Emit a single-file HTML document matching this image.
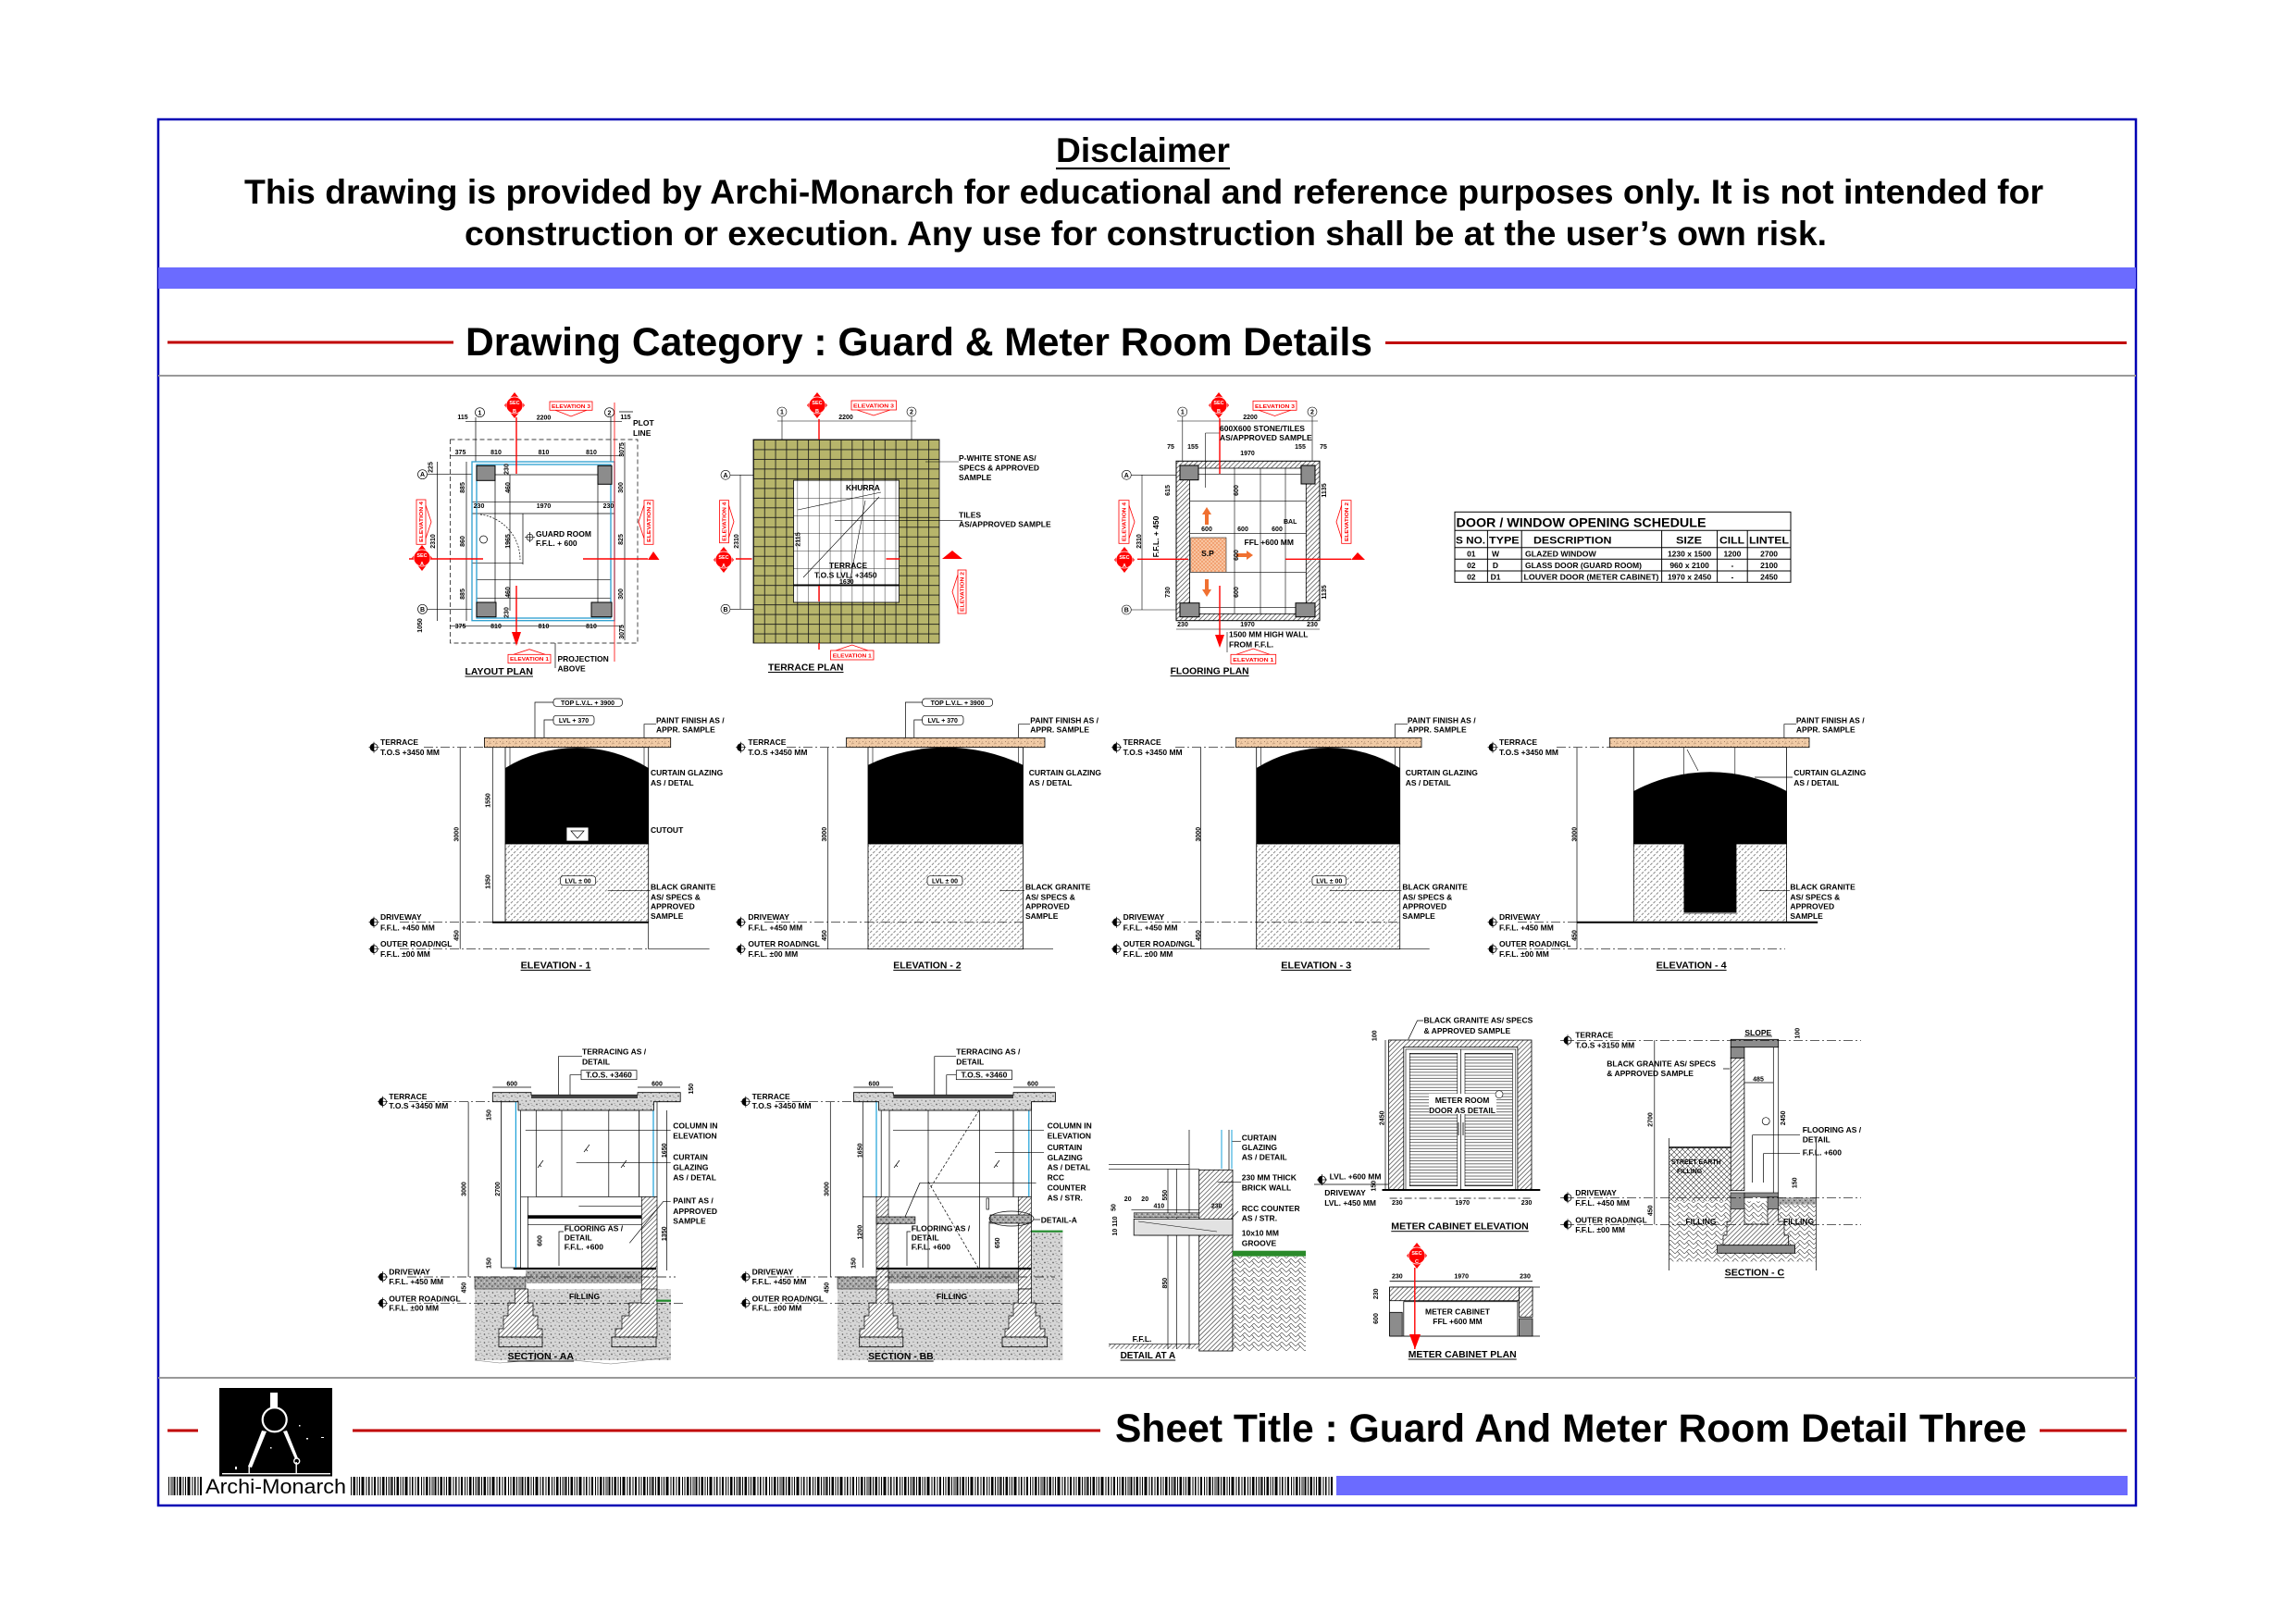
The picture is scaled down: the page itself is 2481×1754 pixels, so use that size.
<!DOCTYPE html>
<html><head><meta charset="utf-8"><title>Guard And Meter Room Detail Three</title>
<style>
html,body{margin:0;padding:0;background:#fff;width:2481px;height:1754px;overflow:hidden;}
svg{display:block;}
text{font-family:"Liberation Sans",Arial,sans-serif;}
.t{font-size:8.5px;font-weight:bold;fill:#000;stroke:none;}
.d{font-size:7px;font-weight:bold;fill:#000;stroke:none;}
.r{font-size:5.5px;font-weight:bold;fill:#f00;stroke:none;}
.w{font-size:5.5px;font-weight:bold;fill:#fff;stroke:none;}
.u{font-size:10.5px;font-weight:bold;fill:#000;stroke:none;}
.m{text-anchor:middle;}
</style></head><body>
<svg width="2481" height="1754" viewBox="0 0 2481 1754" xmlns="http://www.w3.org/2000/svg" xmlns:xlink="http://www.w3.org/1999/xlink">
<defs>
<pattern id="bar" x="0" y="0" width="47" height="20" patternUnits="userSpaceOnUse">
<rect x="0" width="1.5" height="20"/><rect x="3" width="1" height="20"/><rect x="5.5" width="2.5" height="20"/><rect x="9.5" width="1" height="20"/><rect x="12" width="1" height="20"/><rect x="14.5" width="3" height="20"/><rect x="19.5" width="1" height="20"/><rect x="22" width="1.5" height="20"/><rect x="25.5" width="1" height="20"/><rect x="28" width="2" height="20"/><rect x="32" width="1" height="20"/><rect x="34.5" width="1" height="20"/><rect x="37" width="2.5" height="20"/><rect x="41" width="1" height="20"/><rect x="43.5" width="1" height="20"/><rect x="45.5" width="1" height="20"/>
</pattern>
<pattern id="gran" width="4.5" height="4.5" patternUnits="userSpaceOnUse" patternTransform="rotate(45)"><rect width="4.5" height="4.5" fill="#fff"/><line x1="0.5" y1="0" x2="0.5" y2="4.5" stroke="#555" stroke-width="0.7" stroke-dasharray="3,1.5"/></pattern>
<pattern id="wh" width="3.6" height="3.6" patternUnits="userSpaceOnUse" patternTransform="rotate(45)"><rect width="3.6" height="3.6" fill="#fff"/><line x1="0.5" y1="0" x2="0.5" y2="3.6" stroke="#222" stroke-width="0.6"/></pattern>
<pattern id="st" width="9" height="9" patternUnits="userSpaceOnUse"><rect width="9" height="9" fill="#d6d6d6"/><circle cx="1.5" cy="2" r="0.8" fill="#555"/><circle cx="6" cy="1.2" r="0.6" fill="#777"/><circle cx="4" cy="5.5" r="0.9" fill="#666"/><circle cx="8" cy="6.5" r="0.6" fill="#888"/><circle cx="1" cy="7.5" r="0.5" fill="#777"/><rect x="6.5" y="4" width="1" height="1" fill="#999"/></pattern>
<pattern id="st2" width="6" height="6" patternUnits="userSpaceOnUse"><rect width="6" height="6" fill="#a8a8a8"/><circle cx="1" cy="1.5" r="0.7" fill="#333"/><circle cx="4" cy="4" r="0.8" fill="#444"/><circle cx="4.5" cy="0.8" r="0.5" fill="#eee"/><circle cx="1.5" cy="4.8" r="0.5" fill="#eee"/></pattern>
<pattern id="hb" width="10" height="10" patternUnits="userSpaceOnUse"><rect width="10" height="10" fill="#fff"/><path d="M0,5 L5,0 L10,5 M0,10 L5,5 L10,10 M2.5,2.5 L5,5 M7.5,2.5 L10,5" stroke="#444" stroke-width="0.6" fill="none"/></pattern>
<pattern id="hb2" width="6" height="6" patternUnits="userSpaceOnUse"><rect width="6" height="6" fill="#fff"/><path d="M0,0 L6,6 M6,0 L0,6" stroke="#333" stroke-width="0.6" fill="none"/></pattern>
<pattern id="ol" x="814" y="475" width="11.82" height="10.48" patternUnits="userSpaceOnUse"><rect width="11.82" height="10.48" fill="#b7b56b"/><path d="M0,0.4H11.82M0.4,0V10.48" stroke="#1a1a1a" stroke-width="0.9"/></pattern>
<pattern id="tg" x="814" y="519" width="11.82" height="19" patternUnits="userSpaceOnUse"><rect width="11.82" height="19" fill="#fff"/><path d="M0,0.3H11.82M0.4,0V19" stroke="#333" stroke-width="0.5"/></pattern>
<pattern id="lou" width="10" height="3.3" patternUnits="userSpaceOnUse"><rect width="10" height="3.3" fill="#fff"/><line x1="0" y1="0.5" x2="10" y2="0.5" stroke="#333" stroke-width="0.7"/></pattern>
<pattern id="pc" width="7" height="5" patternUnits="userSpaceOnUse"><rect width="7" height="5" fill="#f1cba6"/><circle cx="1.5" cy="1.5" r="0.5" fill="#8a6a50"/><circle cx="5" cy="3.5" r="0.45" fill="#8a6a50"/><line x1="3" y1="4.5" x2="5" y2="1" stroke="#a07a60" stroke-width="0.4"/></pattern>
<pattern id="or" width="4" height="4" patternUnits="userSpaceOnUse"><rect width="4" height="4" fill="#f8c4a0"/><circle cx="1" cy="1" r="0.7" fill="#e8702e"/><circle cx="3" cy="3" r="0.7" fill="#e8702e"/></pattern>
<g id="lv"><circle r="4" fill="#fff" stroke="#000" stroke-width="0.8"/><path d="M0,-4A4,4 0 0 0 0,4Z" fill="#000"/><path d="M-5.5,0H5.5M0,-6V6" stroke="#000" stroke-width="0.7"/></g>
<g id="sec"><polygon points="0,-14 11,0 0,14 -11,0" fill="#f00"/><circle r="9" fill="#f00" stroke="#fff" stroke-width="0.7"/><text y="-1" class="w m">SEC</text></g>
</defs>

<!-- ============ FRAME / HEADER ============ -->
<rect x="171" y="129" width="2137" height="1498" fill="none" stroke="#0000b4" stroke-width="2.5"/>
<text x="1235" y="175" font-size="37" font-weight="bold" text-anchor="middle" textLength="188" lengthAdjust="spacingAndGlyphs">Disclaimer</text>
<rect x="1141" y="181" width="188" height="2.2" fill="#000"/>
<text x="1236" y="220" font-size="37" font-weight="bold" text-anchor="middle" textLength="1944" lengthAdjust="spacingAndGlyphs">This drawing is provided by Archi-Monarch for educational and reference purposes only. It is not intended for</text>
<text x="1238" y="265" font-size="37" font-weight="bold" text-anchor="middle" textLength="1472" lengthAdjust="spacingAndGlyphs">construction or execution. Any use for construction shall be at the user’s own risk.</text>
<rect x="171" y="289" width="2137" height="23" fill="#6b6bff"/>
<rect x="181" y="368.5" width="309" height="3" fill="#c00000"/>
<text x="503" y="384" font-size="42.5" font-weight="bold" textLength="980" lengthAdjust="spacingAndGlyphs">Drawing Category : Guard &amp; Meter Room Details</text>
<rect x="1497" y="369" width="801" height="3" fill="#c00000"/>
<rect x="171" y="405" width="2137" height="2" fill="#999"/>

<!-- ============ FOOTER ============ -->
<rect x="171" y="1488" width="2137" height="2" fill="#999"/>
<rect x="181" y="1544.5" width="33" height="3" fill="#c00000"/>
<rect x="237" y="1500" width="122" height="95.5" fill="#000"/>
<g fill="#fff" stroke="none">
<rect x="292" y="1505" width="8" height="17"/>
<polygon points="283,1546 288,1547 272,1586 268,1585"/>
<polygon points="306,1547 310,1546 322,1576 319,1577"/>
<rect x="240" y="1592" width="117" height="1.4"/>
<rect x="268.5" y="1583" width="1.4" height="10"/>
<rect x="319.5" y="1580" width="1.4" height="12"/>
<rect x="254" y="1585" width="2" height="3"/><rect x="292" y="1564" width="1.5" height="1.5"/><rect x="331" y="1554" width="2" height="1.5"/><rect x="347" y="1553" width="3" height="1"/><rect x="323" y="1540" width="1.5" height="1.5"/>
</g>
<circle cx="296.7" cy="1534.3" r="13" fill="none" stroke="#fff" stroke-width="2.2"/>
<circle cx="320.7" cy="1579" r="3" fill="none" stroke="#fff" stroke-width="1.4"/>
<rect x="381" y="1544.5" width="808" height="3" fill="#c00000"/>
<text x="1205" y="1558" font-size="42.5" font-weight="bold" textLength="985" lengthAdjust="spacingAndGlyphs">Sheet Title : Guard And Meter Room Detail Three</text>
<rect x="2204" y="1544.5" width="94" height="3" fill="#c00000"/>
<rect x="182" y="1596" width="36" height="20" fill="url(#bar)"/>
<text x="222" y="1614" font-size="22" textLength="152" lengthAdjust="spacingAndGlyphs">Archi-Monarch</text>
<rect x="378" y="1596" width="1062" height="20" fill="url(#bar)"/>
<rect x="1444" y="1595" width="855" height="21" fill="#6b6bff"/>

<!-- ============ LAYOUT PLAN ============ -->
<g stroke="#000" stroke-width="0.7" fill="none">
<rect x="486.5" y="475" width="202.5" height="220" stroke-dasharray="5,3"/>
<circle cx="518.5" cy="445.7" r="5"/><circle cx="658.5" cy="445.7" r="5"/>
<circle cx="456.5" cy="512.7" r="5"/><circle cx="456.5" cy="658.3" r="5"/>
<path d="M514,451V499 M660,451V499 M462,512.7H510 M462,658.3H510"/>
<path d="M503,455.7H672 M486,492.7H672 M486,676.7H672 M472.5,499V671 M504,499V671 M675,478V692 M551,513V660"/>
<path d="M515,513H660 M510,542.3H664 M510,555H664 M515,626.7H660 M515,646.7H660 M510,608.3H565 M535,519V651 M646,523V651 M565,555V610"/>
<path d="M519,556 A49,49 0 0 1 562,605" stroke-dasharray="2,1.5"/>
<path d="M669,445H684 M600,695V722"/>
<circle cx="572.5" cy="580.7" r="3.5"/><path d="M567,580.7H578 M572.5,575V586"/>
<circle cx="522.5" cy="583" r="4"/>
</g>
<rect x="510" y="499" width="154" height="171.7" fill="none" stroke="#2a9fd0" stroke-width="1.3"/>
<rect x="515" y="502" width="145" height="166" fill="none" stroke="#2a9fd0" stroke-width="1.3"/>
<g fill="#8c8c8c" stroke="#000" stroke-width="1">
<rect x="515" y="503.3" width="20" height="16"/><rect x="646" y="503.3" width="15" height="20"/>
<rect x="515" y="651" width="21" height="15.7"/><rect x="639" y="651" width="22" height="15.7"/>
</g>
<g stroke="#f00" stroke-width="1.4" fill="none">
<path d="M558,451V512 M558,633V690 M442,604H522 M630,604H700"/>
<path d="M664,435V715" stroke-width="0.8"/>
</g>
<polygon points="553,683 563,683 558,698" fill="#f00"/>
<polygon points="700,605 712.5,605 706,596" fill="#f00"/>
<use xlink:href="#sec" x="556" y="438"/><text x="556" y="446" class="w m">B</text>
<use xlink:href="#sec" x="456" y="603"/><text x="456" y="611" class="w m">A</text>
<g stroke="#f00" stroke-width="0.8" fill="none">
<rect x="594" y="434" width="46" height="9.3"/><path d="M600,443.3 L617,450 L634,443.3"/>
<rect x="549" y="707.3" width="46" height="9.4"/><path d="M555,707.3 L572,701.7 L589,707.3"/>
<rect x="450" y="540" width="10" height="48.3"/><path d="M460,546 L466,564 L460,582"/>
<rect x="696" y="540.7" width="10" height="47.6"/><path d="M696,546 L690,564 L696,582"/>
</g>
<text x="617" y="441" class="r m" textLength="42" lengthAdjust="spacingAndGlyphs">ELEVATION 3</text>
<text x="572" y="714" class="r m" textLength="42" lengthAdjust="spacingAndGlyphs">ELEVATION 1</text>
<text transform="translate(457,564) rotate(-90)" class="r m" textLength="44" lengthAdjust="spacingAndGlyphs">ELEVATION 4</text>
<text transform="translate(703,564) rotate(-90)" class="r m" textLength="44" lengthAdjust="spacingAndGlyphs">ELEVATION 2</text>
<g class="d">
<text x="518.5" y="448.5" class="d m">1</text><text x="658.5" y="448.5" class="d m">2</text>
<text x="456.5" y="515.2" class="d m">A</text><text x="456.5" y="660.8" class="d m">B</text>
<text x="587.5" y="453.5" class="d m">2200</text><text x="500" y="453" class="d m">115</text><text x="676" y="453" class="d m">115</text>
<text x="497.5" y="491" class="d m">375</text><text x="536" y="491" class="d m">810</text><text x="587.5" y="491" class="d m">810</text><text x="639" y="491" class="d m">810</text>
<text x="497.5" y="679" class="d m">375</text><text x="536" y="679" class="d m">810</text><text x="587.5" y="679" class="d m">810</text><text x="639" y="679" class="d m">810</text>
<text x="587.5" y="549" class="d m">1970</text><text x="517.5" y="549" class="d m">230</text><text x="657.5" y="549" class="d m">230</text>
<text transform="translate(470,585) rotate(-90)" class="d m">2310</text>
<text transform="translate(467.5,505) rotate(-90)" class="d m">225</text>
<text transform="translate(456,676) rotate(-90)" class="d m">1050</text>
<text transform="translate(502,527) rotate(-90)" class="d m">885</text>
<text transform="translate(502,585) rotate(-90)" class="d m">860</text>
<text transform="translate(502,642) rotate(-90)" class="d m">885</text>
<text transform="translate(673,527) rotate(-90)" class="d m">300</text>
<text transform="translate(673,583) rotate(-90)" class="d m">825</text>
<text transform="translate(673,642) rotate(-90)" class="d m">300</text>
<text transform="translate(674,486) rotate(-90)" class="d m">3075</text>
<text transform="translate(674,683) rotate(-90)" class="d m">3075</text>
<text transform="translate(551,527) rotate(-90)" class="d m">460</text>
<text transform="translate(551,585) rotate(-90)" class="d m">1965</text>
<text transform="translate(551,640) rotate(-90)" class="d m">460</text>
<text transform="translate(549.5,507) rotate(-90)" class="d m">230</text>
<text transform="translate(549.5,662) rotate(-90)" class="d m">230</text>
</g>
<text x="684" y="460" class="t">PLOT</text><text x="684" y="471" class="t">LINE</text>
<text x="579" y="580" class="t">GUARD ROOM</text><text x="579" y="590" class="t">F.F.L. + 600</text>
<text x="602.5" y="715" class="t">PROJECTION</text><text x="602.5" y="725.5" class="t">ABOVE</text>
<text x="502.5" y="729" class="u" textLength="73.5" lengthAdjust="spacingAndGlyphs">LAYOUT PLAN</text>
<rect x="502.5" y="730.5" width="73.5" height="1" fill="#000"/>

<!-- ============ TERRACE PLAN ============ -->
<rect x="814" y="475" width="201" height="220" fill="url(#ol)" stroke="#000" stroke-width="0.8"/>
<rect x="857.5" y="519" width="114" height="132" fill="url(#tg)" stroke="#000" stroke-width="0.8"/>
<line x1="857.5" y1="632.3" x2="971.5" y2="632.3" stroke="#000" stroke-width="1.6"/>
<g stroke="#000" stroke-width="0.6" fill="none">
<path d="M862,551 L952,532 M868,624 L950,537 M935,541 L918,630"/>
<path d="M902,562.7 H1040 M1000,499 H1036"/>
<circle cx="845" cy="445" r="5"/><circle cx="985" cy="445" r="5"/>
<circle cx="784" cy="513.3" r="5"/><circle cx="784" cy="658.3" r="5"/>
<path d="M845,450V475 M985,450V475 M840,455H990 M800,513V658 M789,513.3H814 M789,658.3H814"/>
</g>
<g stroke="#f00" stroke-width="1.4" fill="none">
<path d="M885,453V475 M885,633V650 M885,695V702 M795,604H812.5 M957.5,604H972.5"/>
</g>
<polygon points="1018,604 1040,604 1029,595" fill="#f00"/>
<use xlink:href="#sec" x="883" y="438"/><text x="883" y="446" class="w m">B</text>
<use xlink:href="#sec" x="782" y="605"/><text x="782" y="613" class="w m">A</text>
<g stroke="#f00" stroke-width="0.8" fill="none">
<rect x="920" y="433" width="48.5" height="10"/><path d="M926,443 L944,449 L962,443"/>
<rect x="897.5" y="703" width="46.5" height="10"/><path d="M903,703 L920.75,697 L938,703"/>
<rect x="777.5" y="540.7" width="10" height="46"/><path d="M787.5,546 L793,563.7 L787.5,581"/>
<rect x="1035" y="616" width="9" height="47"/><path d="M1035,621 L1029,639.5 L1035,658"/>
</g>
<text x="944" y="440.5" class="r m" textLength="44" lengthAdjust="spacingAndGlyphs">ELEVATION 3</text>
<text x="920.75" y="710.5" class="r m" textLength="42" lengthAdjust="spacingAndGlyphs">ELEVATION 1</text>
<text transform="translate(784.5,563.7) rotate(-90)" class="r m" textLength="42" lengthAdjust="spacingAndGlyphs">ELEVATION 4</text>
<text transform="translate(1041.5,639.5) rotate(-90)" class="r m" textLength="43" lengthAdjust="spacingAndGlyphs">ELEVATION 2</text>
<text x="845" y="447.5" class="d m">1</text><text x="985" y="447.5" class="d m">2</text>
<text x="784" y="515.8" class="d m">A</text><text x="784" y="660.8" class="d m">B</text>
<text x="914" y="453" class="d m">2200</text>
<text transform="translate(798,585) rotate(-90)" class="d m">2310</text>
<text transform="translate(864.5,583) rotate(-90)" class="d m">2115</text>
<text x="1036" y="498" class="t">P-WHITE STONE AS/</text>
<text x="1036" y="508.5" class="t">SPECS &amp; APPROVED</text>
<text x="1036" y="519" class="t">SAMPLE</text>
<text x="1036" y="559.5" class="t">TILES</text>
<text x="1036" y="569.5" class="t">AS/APPROVED SAMPLE</text>
<text x="914" y="530" class="t">KHURRA</text>
<text x="896" y="614" class="t">TERRACE</text>
<text x="880" y="624.5" class="t">T.O.S LVL. +3450</text>
<text x="907" y="631" class="d">1630</text>
<text x="830" y="724.5" class="u" textLength="81.5" lengthAdjust="spacingAndGlyphs">TERRACE PLAN</text>
<rect x="830" y="726" width="81.5" height="1" fill="#000"/>

<!-- ============ FLOORING PLAN ============ -->
<rect x="1271" y="498.3" width="155" height="172.4" fill="url(#wh)" stroke="#000" stroke-width="1"/>
<rect x="1285.6" y="506" width="125.7" height="157.3" fill="#fff" stroke="#000" stroke-width="0.8"/>
<g stroke="#000" stroke-width="0.6" fill="none">
<path d="M1334,506V663 M1362,506V663 M1389,506V663 M1285.6,512.7H1411 M1285.6,541.7H1411 M1285.6,576.7H1411 M1285.6,618.3H1411 M1285.6,656.7H1411"/>
<circle cx="1277.8" cy="445" r="5"/><circle cx="1418" cy="445" r="5"/>
<circle cx="1217.3" cy="513.3" r="5"/><circle cx="1217.3" cy="659" r="5"/>
<path d="M1277.8,450V498 M1418,450V498 M1272,455H1424 M1234,513V659 M1222,513.3H1271 M1222,659H1271 M1302.5,468V527 M1302.5,468H1318 M1326,683V705 M1271,680H1426"/>
</g>
<rect x="1286.7" y="581" width="38.3" height="37.3" fill="url(#or)" stroke="#000" stroke-width="0.5"/>
<g fill="#8c8c8c" stroke="#000" stroke-width="1">
<rect x="1275" y="503" width="20" height="15.7"/><rect x="1406" y="503" width="15" height="20"/>
<rect x="1275" y="651.7" width="21" height="15"/><rect x="1400" y="651.7" width="21" height="15"/>
</g>
<g fill="#f07030">
<rect x="1302" y="555" width="4" height="12"/><polygon points="1299,556 1309,556 1304,548"/>
<rect x="1302" y="626" width="4" height="12"/><polygon points="1299,637 1309,637 1304,645"/>
<rect x="1336" y="598" width="12" height="4"/><polygon points="1347,595 1347,605 1354,600"/>
</g>
<g stroke="#f00" stroke-width="1.4" fill="none">
<path d="M1318,452V512 M1318,633V690 M1229,604.3H1284 M1389,604.3H1460"/>
</g>
<polygon points="1313,686 1323,686 1318,700" fill="#f00"/>
<polygon points="1460,605 1475,605 1467,597" fill="#f00"/>
<use xlink:href="#sec" x="1317" y="438"/><text x="1317" y="446" class="w m">B</text>
<use xlink:href="#sec" x="1215" y="605"/><text x="1215" y="613" class="w m">A</text>
<g stroke="#f00" stroke-width="0.8" fill="none">
<rect x="1354" y="433.3" width="47" height="10"/><path d="M1360,443.3 L1377.5,449.5 L1395,443.3"/>
<rect x="1330" y="707.3" width="48.7" height="10"/><path d="M1336,707.3 L1354.3,701 L1372,707.3"/>
<rect x="1209" y="540.7" width="11" height="46.6"/><path d="M1220,546 L1226,564 L1220,582"/>
<rect x="1449.7" y="540.7" width="10.3" height="46.6"/><path d="M1449.7,546 L1444,564 L1449.7,582"/>
</g>
<text x="1377.5" y="440.8" class="r m" textLength="43" lengthAdjust="spacingAndGlyphs">ELEVATION 3</text>
<text x="1354.3" y="714.8" class="r m" textLength="44" lengthAdjust="spacingAndGlyphs">ELEVATION 1</text>
<text transform="translate(1216.5,564) rotate(-90)" class="r m" textLength="42" lengthAdjust="spacingAndGlyphs">ELEVATION 4</text>
<text transform="translate(1457,564) rotate(-90)" class="r m" textLength="42" lengthAdjust="spacingAndGlyphs">ELEVATION 2</text>
<text x="1277.8" y="447.5" class="d m">1</text><text x="1418" y="447.5" class="d m">2</text>
<text x="1217.3" y="515.8" class="d m">A</text><text x="1217.3" y="661.5" class="d m">B</text>
<text x="1351" y="453" class="d m">2200</text>
<text x="1318" y="466" class="t">600X600 STONE/TILES</text>
<text x="1318" y="476" class="t">AS/APPROVED SAMPLE</text>
<text x="1265" y="485" class="d m">75</text><text x="1289" y="485" class="d m">155</text><text x="1348" y="492" class="d m">1970</text><text x="1405" y="485" class="d m">155</text><text x="1430" y="485" class="d m">75</text>
<text x="1304" y="574" class="d m">600</text><text x="1343" y="574" class="d m">600</text><text x="1380" y="574" class="d m">600</text>
<text x="1344.5" y="589" class="t">FFL +600 MM</text>
<text x="1387" y="566" class="d">BAL</text>
<text x="1305" y="601" class="t m">S.P</text>
<text x="1278" y="677" class="d m">230</text><text x="1348" y="677" class="d m">1970</text><text x="1418" y="677" class="d m">230</text>
<text x="1328" y="688.5" class="t">1500 MM HIGH WALL</text>
<text x="1328" y="699.5" class="t">FROM F.F.L.</text>
<text transform="translate(1233,585) rotate(-90)" class="d m">2310</text>
<text transform="translate(1252,580) rotate(-90)" class="t m">F.F.L. + 450</text>
<text transform="translate(1264,530) rotate(-90)" class="d m">615</text>
<text transform="translate(1264,640) rotate(-90)" class="d m">730</text>
<text transform="translate(1338,530) rotate(-90)" class="d m">600</text>
<text transform="translate(1338,600) rotate(-90)" class="d m">600</text>
<text transform="translate(1338,640) rotate(-90)" class="d m">600</text>
<text transform="translate(1433,530) rotate(-90)" class="d m">1135</text>
<text transform="translate(1433,640) rotate(-90)" class="d m">1135</text>
<text x="1264.6" y="728.5" class="u" textLength="85" lengthAdjust="spacingAndGlyphs">FLOORING PLAN</text>
<rect x="1264.6" y="730" width="85" height="1" fill="#000"/>

<!-- ============ TABLE ============ -->
<g stroke="#000" stroke-width="1" fill="none">
<rect x="1572" y="553.3" width="363" height="76"/>
<path d="M1572,573.3H1935 M1572,591.7H1935 M1572,604.3H1935 M1572,617H1935 M1607.4,573.3V629.3 M1644.2,573.3V629.3 M1795.6,573.3V629.3 M1855.6,573.3V629.3 M1888.2,573.3V629.3"/>
</g>
<text x="1573.5" y="569.5" font-size="14" font-weight="bold" textLength="270" lengthAdjust="spacingAndGlyphs">DOOR /  WINDOW OPENING SCHEDULE</text>
<g font-size="11" font-weight="bold">
<text x="1573" y="587.5" textLength="32" lengthAdjust="spacingAndGlyphs">S NO.</text>
<text x="1609" y="587.5" textLength="32.6" lengthAdjust="spacingAndGlyphs">TYPE</text>
<text x="1657" y="587.5" textLength="84.5" lengthAdjust="spacingAndGlyphs">DESCRIPTION</text>
<text x="1811" y="587.5" textLength="28" lengthAdjust="spacingAndGlyphs">SIZE</text>
<text x="1858" y="587.5" textLength="27" lengthAdjust="spacingAndGlyphs">CILL</text>
<text x="1890" y="587.5" textLength="43" lengthAdjust="spacingAndGlyphs">LINTEL</text>
</g>
<g class="t">
<text x="1589.8" y="601.5" class="t m">01</text><text x="1616" y="601.5" class="t m">W</text><text x="1648" y="601.5" class="t" textLength="76.7" lengthAdjust="spacingAndGlyphs">GLAZED WINDOW</text><text x="1825.6" y="601.5" class="t m">1230 x 1500</text><text x="1871.9" y="601.5" class="t m">1200</text><text x="1911.6" y="601.5" class="t m">2700</text>
<text x="1589.8" y="614" class="t m">02</text><text x="1616" y="614" class="t m">D</text><text x="1648" y="614" class="t" textLength="126" lengthAdjust="spacingAndGlyphs">GLASS DOOR (GUARD ROOM)</text><text x="1825.6" y="614" class="t m">960 x 2100</text><text x="1871.9" y="614" class="t m">-</text><text x="1911.6" y="614" class="t m">2100</text>
<text x="1589.8" y="626.5" class="t m">02</text><text x="1616" y="626.5" class="t m">D1</text><text x="1646.5" y="626.5" class="t" textLength="146" lengthAdjust="spacingAndGlyphs">LOUVER DOOR (METER CABINET)</text><text x="1825.6" y="626.5" class="t m">1970 x 2450</text><text x="1871.9" y="626.5" class="t m">-</text><text x="1911.6" y="626.5" class="t m">2450</text>
</g>

<!-- ============ ELEVATION 1 ============ -->
<rect x="523.4" y="797.3" width="201.3" height="10.4" fill="url(#pc)" stroke="#000" stroke-width="0.8"/>
<rect x="546" y="807.7" width="154.7" height="104.3" fill="#fff" stroke="#000" stroke-width="0.8"/>
<path d="M551,808V832 M696,808V832" stroke="#000" stroke-width="0.6"/>
<path d="M546,912 V830 A147.5,147.5 0 0 1 700.7,830 V912 Z" fill="#000"/>
<rect x="546" y="912" width="154.7" height="84.7" fill="url(#gran)" stroke="#000" stroke-width="0.8"/>
<rect x="612" y="894" width="24" height="15" fill="#fff" stroke="#000" stroke-width="0.8"/>
<polygon points="617,898 631,898 624,906" fill="none" stroke="#000" stroke-width="0.7"/>
<g stroke="#000" stroke-width="0.7" fill="none">
<path d="M532,996.7H700.7" stroke-width="2"/>
<path d="M432,1025.7H700.7 M432,996.7H532 M458,807.7H523" stroke-dasharray="10,3,2,3"/>
<path d="M700.7,1025.7H766.6 M700.7,996.7V1025.7 M497.2,807.7V1025.7 M532.3,807.7V996.7"/>
<path d="M598,759H578V797 M598,778H588V797 M709,782.7H696V797 M656.7,962.7H702.8"/>
<rect x="598" y="755" width="74.4" height="8.3" rx="3"/>
<rect x="598" y="773.3" width="44" height="10" rx="3"/>
<rect x="605.5" y="946.7" width="38.2" height="10" rx="3" fill="#fff"/>
</g>
<use xlink:href="#lv" x="404" y="807.7"/><use xlink:href="#lv" x="404" y="996.7"/><use xlink:href="#lv" x="404" y="1025.7"/>
<text x="411" y="805" class="t">TERRACE</text><text x="411" y="816" class="t">T.O.S +3450 MM</text>
<text x="411" y="994" class="t">DRIVEWAY</text><text x="411" y="1005.5" class="t">F.F.L. +450 MM</text>
<text x="411" y="1023" class="t">OUTER ROAD/NGL</text><text x="411" y="1034" class="t">F.F.L. ±00 MM</text>
<text x="635" y="762" class="d m">TOP L.V.L. + 3900</text>
<text x="620" y="781" class="d m">LVL + 370</text>
<text x="624.6" y="954.5" class="d m">LVL ± 00</text>
<text x="709" y="781.5" class="t">PAINT FINISH AS /</text><text x="709" y="791.5" class="t">APPR. SAMPLE</text>
<text x="703" y="838" class="t">CURTAIN GLAZING</text><text x="703" y="849" class="t">AS / DETAL</text>
<text x="703" y="900" class="t">CUTOUT</text>
<text x="703" y="961.5" class="t">BLACK GRANITE</text><text x="703" y="972.5" class="t">AS/ SPECS &amp;</text><text x="703" y="982.5" class="t">APPROVED</text><text x="703" y="993" class="t">SAMPLE</text>
<text transform="translate(495.6,901.7) rotate(-90)" class="d m">3000</text>
<text transform="translate(529.5,865) rotate(-90)" class="d m">1550</text>
<text transform="translate(529.5,953) rotate(-90)" class="d m">1350</text>
<text transform="translate(495.6,1011) rotate(-90)" class="d m">450</text>
<text x="562.6" y="1046.5" class="u" textLength="75.8" lengthAdjust="spacingAndGlyphs">ELEVATION - 1</text>
<rect x="562.6" y="1048" width="75.8" height="1" fill="#000"/>

<!-- ============ ELEVATION 2 ============ -->
<rect x="914.6" y="797.3" width="214.4" height="10.4" fill="url(#pc)" stroke="#000" stroke-width="0.8"/>
<rect x="938" y="807.7" width="167.5" height="104.3" fill="#fff" stroke="#000" stroke-width="0.8"/>
<path d="M943,808V830 M1100.5,808V830" stroke="#000" stroke-width="0.6"/>
<path d="M938,912 V826.7 A194,194 0 0 1 1105.5,826.7 V912 Z" fill="#000"/>
<rect x="938" y="912" width="167.5" height="113.7" fill="url(#gran)" stroke="#000" stroke-width="0.8"/>
<g stroke="#000" stroke-width="0.7" fill="none">
<path d="M826,996.7H1105.5 M850,807.7H914.6" stroke-dasharray="10,3,2,3"/>
<path d="M826,1025.7H1138 M894.7,807.7V1025.7"/>
<path d="M996.7,759H978.4V797 M996.7,778H987.8V797 M1113,782.7H1100.6V797 M1080.4,962.7H1107"/>
<rect x="996.7" y="755" width="75.8" height="8.3" rx="3"/>
<rect x="996.7" y="773.3" width="44.3" height="10" rx="3"/>
<rect x="1002" y="946.7" width="38" height="10" rx="3" fill="#fff"/>
</g>
<use xlink:href="#lv" x="800.6" y="807.7"/><use xlink:href="#lv" x="800.6" y="996.7"/><use xlink:href="#lv" x="800.6" y="1025.7"/>
<text x="808.4" y="805" class="t">TERRACE</text><text x="808.4" y="816" class="t">T.O.S +3450 MM</text>
<text x="808.4" y="994" class="t">DRIVEWAY</text><text x="808.4" y="1005.5" class="t">F.F.L. +450 MM</text>
<text x="808.4" y="1023" class="t">OUTER ROAD/NGL</text><text x="808.4" y="1034" class="t">F.F.L. ±00 MM</text>
<text x="1034.6" y="762" class="d m">TOP L.V.L. + 3900</text>
<text x="1018.8" y="781" class="d m">LVL + 370</text>
<text x="1021" y="954.5" class="d m">LVL ± 00</text>
<text x="1113.3" y="781.5" class="t">PAINT FINISH AS /</text><text x="1113.3" y="791.5" class="t">APPR. SAMPLE</text>
<text x="1111.8" y="838" class="t">CURTAIN GLAZING</text><text x="1111.8" y="849" class="t">AS / DETAL</text>
<text x="1108" y="961.5" class="t">BLACK GRANITE</text><text x="1108" y="972.5" class="t">AS/ SPECS &amp;</text><text x="1108" y="982.5" class="t">APPROVED</text><text x="1108" y="993" class="t">SAMPLE</text>
<text transform="translate(893,901.7) rotate(-90)" class="d m">3000</text>
<text transform="translate(893,1011) rotate(-90)" class="d m">450</text>
<text x="965.3" y="1046.5" class="u" textLength="73.2" lengthAdjust="spacingAndGlyphs">ELEVATION - 2</text>
<rect x="965.3" y="1048" width="73.2" height="1" fill="#000"/>

<!-- ============ ELEVATION 3 ============ -->
<rect x="1335.5" y="797.3" width="200.5" height="10.4" fill="url(#pc)" stroke="#000" stroke-width="0.8"/>
<rect x="1357.7" y="807.7" width="155" height="104.3" fill="#fff" stroke="#000" stroke-width="0.8"/>
<path d="M1362.7,808V832 M1507.7,808V832" stroke="#000" stroke-width="0.6"/>
<path d="M1357.7,912 V830 A147.5,147.5 0 0 1 1512.7,830 V912 Z" fill="#000"/>
<rect x="1357.7" y="912" width="155" height="113.7" fill="url(#gran)" stroke="#000" stroke-width="0.8"/>
<g stroke="#000" stroke-width="0.7" fill="none">
<path d="M1230,996.7H1512.7 M1270,807.7H1335.5" stroke-dasharray="10,3,2,3"/>
<path d="M1230,1025.7H1544.7 M1297.6,807.7V1025.7"/>
<path d="M1521,782.7H1507.3V797 M1436.9,962.7H1514.4"/>
<rect x="1417.9" y="946.7" width="36.8" height="10" rx="3" fill="#fff"/>
</g>
<use xlink:href="#lv" x="1206.5" y="807.7"/><use xlink:href="#lv" x="1206.5" y="996.7"/><use xlink:href="#lv" x="1206.5" y="1025.7"/>
<text x="1213.6" y="805" class="t">TERRACE</text><text x="1213.6" y="816" class="t">T.O.S +3450 MM</text>
<text x="1213.6" y="994" class="t">DRIVEWAY</text><text x="1213.6" y="1005.5" class="t">F.F.L. +450 MM</text>
<text x="1213.6" y="1023" class="t">OUTER ROAD/NGL</text><text x="1213.6" y="1034" class="t">F.F.L. ±00 MM</text>
<text x="1436.3" y="954.5" class="d m">LVL ± 00</text>
<text x="1520.9" y="781.5" class="t">PAINT FINISH AS /</text><text x="1520.9" y="791.5" class="t">APPR. SAMPLE</text>
<text x="1518.7" y="838" class="t">CURTAIN GLAZING</text><text x="1518.7" y="849" class="t">AS / DETAIL</text>
<text x="1515.4" y="961.5" class="t">BLACK GRANITE</text><text x="1515.4" y="972.5" class="t">AS/ SPECS &amp;</text><text x="1515.4" y="982.5" class="t">APPROVED</text><text x="1515.4" y="993" class="t">SAMPLE</text>
<text transform="translate(1296.8,901.7) rotate(-90)" class="d m">3000</text>
<text transform="translate(1296.8,1011) rotate(-90)" class="d m">450</text>
<text x="1384.3" y="1046.5" class="u" textLength="75.9" lengthAdjust="spacingAndGlyphs">ELEVATION - 3</text>
<rect x="1384.3" y="1048" width="75.9" height="1" fill="#000"/>

<!-- ============ ELEVATION 4 ============ -->
<rect x="1739.3" y="797.3" width="215.7" height="10.4" fill="url(#pc)" stroke="#000" stroke-width="0.8"/>
<rect x="1765.3" y="807.7" width="165.3" height="104.3" fill="#fff" stroke="#000" stroke-width="0.8"/>
<path d="M1819.5,808V850 M1874.8,808V850 M1823,810 L1835,833" stroke="#000" stroke-width="0.6"/>
<path d="M1765.3,912 V855 A175,175 0 0 1 1930.6,855 V912 Z" fill="#000"/>
<rect x="1765.3" y="912" width="165.3" height="84.7" fill="url(#gran)" stroke="#000" stroke-width="0.8"/>
<rect x="1819.5" y="911" width="56.9" height="76.3" fill="#000"/>
<line x1="1819.5" y1="986.5" x2="1876.4" y2="986.5" stroke="#888" stroke-width="1"/>
<g stroke="#000" stroke-width="0.7" fill="none">
<path d="M1704,996.7H1964.2" stroke-width="2"/>
<path d="M1640,1025.7H1929 M1682,807.7H1739.3 M1640,996.7H1704" stroke-dasharray="10,3,2,3"/>
<path d="M1704,807.7V1025.7"/>
<path d="M1941,782.7H1927.9V797 M1896,840H1937 M1900.8,962.7H1934"/>
</g>
<use xlink:href="#lv" x="1613" y="807.7"/><use xlink:href="#lv" x="1613" y="996.7"/><use xlink:href="#lv" x="1613" y="1025.7"/>
<text x="1620" y="805" class="t">TERRACE</text><text x="1620" y="816" class="t">T.O.S +3450 MM</text>
<text x="1620" y="994" class="t">DRIVEWAY</text><text x="1620" y="1005.5" class="t">F.F.L. +450 MM</text>
<text x="1620" y="1023" class="t">OUTER ROAD/NGL</text><text x="1620" y="1034" class="t">F.F.L. ±00 MM</text>
<text x="1940.9" y="781.5" class="t">PAINT FINISH AS /</text><text x="1940.9" y="791.5" class="t">APPR. SAMPLE</text>
<text x="1938.2" y="838" class="t">CURTAIN GLAZING</text><text x="1938.2" y="849" class="t">AS / DETAIL</text>
<text x="1934.4" y="961.5" class="t">BLACK GRANITE</text><text x="1934.4" y="972.5" class="t">AS/ SPECS &amp;</text><text x="1934.4" y="982.5" class="t">APPROVED</text><text x="1934.4" y="993" class="t">SAMPLE</text>
<text transform="translate(1703.4,901.7) rotate(-90)" class="d m">3000</text>
<text transform="translate(1703.4,1011) rotate(-90)" class="d m">450</text>
<text x="1789.7" y="1046.5" class="u" textLength="75.9" lengthAdjust="spacingAndGlyphs">ELEVATION - 4</text>
<rect x="1789.7" y="1048" width="75.9" height="1" fill="#000"/>

<!-- ============ SECTION AA ============ -->
<rect x="513" y="1393" width="212" height="77" fill="url(#st)"/>
<path d="M513,1470 L540,1473 L600,1468 L660,1474 L725,1467" stroke="#777" stroke-width="0.6" fill="none"/>
<rect x="513" y="1380" width="55" height="13" fill="url(#st2)" stroke="#000" stroke-width="0.5"/>
<rect x="568" y="1373" width="125" height="14" fill="url(#st2)"/>
<path d="M556.3,1393H570.4V1408H576V1422H581V1436H586V1445H539V1436H544V1422H549V1408H556.3Z" fill="url(#wh)" stroke="#000" stroke-width="0.7"/>
<rect x="539" y="1445" width="47" height="10.7" fill="url(#st)" stroke="#000" stroke-width="0.8"/>
<rect x="693.3" y="1293.3" width="16.7" height="100" fill="url(#wh)" stroke="#000" stroke-width="0.7"/>
<path d="M693,1393H710V1445H665V1436H672V1422H680V1408H693Z" fill="url(#wh)" stroke="#000" stroke-width="0.7"/>
<rect x="661" y="1445" width="48" height="10.7" fill="url(#st)" stroke="#000" stroke-width="0.8"/>
<line x1="709" y1="1405.7" x2="725" y2="1405.7" stroke="#1f8a2a" stroke-width="2.2"/>
<line x1="554.7" y1="1371" x2="709" y2="1371" stroke="#000" stroke-width="2.2"/>
<g stroke="#000" stroke-width="0.7" fill="none">
<rect x="541.7" y="1190.7" width="20.9" height="179.3" fill="#fff"/>
<rect x="690.7" y="1190.7" width="19.3" height="102.6" fill="#fff"/>
<rect x="579.3" y="1200" width="111.4" height="93.3"/>
<path d="M607,1200V1293.3 M657.8,1200V1293.3 M562.6,1293.3H693 M570.4,1293.3V1370 M570.4,1323.3H693.3"/>
<path d="M581,1262 l6,-8 M631,1245 l6,-8 M671,1262 l6,-8 M583,1259 l2,2 M633,1242 l2,2 M673,1259 l2,2"/>
</g>
<path d="M557.4,1191V1370 M706,1191V1293" stroke="#1aa0d8" stroke-width="1.2"/>
<rect x="570.4" y="1313.3" width="122.9" height="3.6" fill="#000"/>
<path d="M532.3,1180.7H574V1183.3H689V1180.7H735.2V1190.7H706.4V1200H560V1190.7H532.3Z" fill="url(#st)" stroke="#000" stroke-width="0.8"/>
<rect x="574" y="1183.3" width="115" height="3.7" fill="#444"/>
<g stroke="#000" stroke-width="0.7" fill="none">
<path d="M442,1190.7H532 M440,1380H730 M440,1408.3H738" stroke-dasharray="10,3,2,3"/>
<path d="M506.1,1190.7V1380 M541.7,1190.7V1370 M720.5,1200V1373 M532.3,1175H574 M689,1175H735"/>
<path d="M629,1141.7H603.4V1183.3 M628,1161.7H616V1183.3 M567.8,1221.7H724.7 M622.7,1256.7H724.7 M680.3,1343.3L716.9,1298.3H724.7 M625.4,1303.3H693 M609,1331H604V1368"/>
<rect x="628" y="1156.7" width="60" height="10"/>
</g>
<use xlink:href="#lv" x="413.5" y="1190.7"/><use xlink:href="#lv" x="413.5" y="1380"/><use xlink:href="#lv" x="413.5" y="1408.3"/>
<text x="420.3" y="1188" class="t">TERRACE</text><text x="420.3" y="1198" class="t">T.O.S +3450 MM</text>
<text x="420.3" y="1377.5" class="t">DRIVEWAY</text><text x="420.3" y="1388" class="t">F.F.L. +450 MM</text>
<text x="420.3" y="1406.5" class="t">OUTER ROAD/NGL</text><text x="420.3" y="1416.5" class="t">F.F.L. ±00 MM</text>
<text x="629" y="1139.7" class="t">TERRACING AS /</text><text x="629" y="1150.3" class="t">DETAIL</text>
<text x="658" y="1164.5" class="t m">T.O.S.  +3460</text>
<text x="727.3" y="1219.7" class="t">COLUMN IN</text><text x="727.3" y="1230.7" class="t">ELEVATION</text>
<text x="727.3" y="1253.7" class="t">CURTAIN</text><text x="727.3" y="1264.7" class="t">GLAZING</text><text x="727.3" y="1275.3" class="t">AS / DETAL</text>
<text x="727.3" y="1300.7" class="t">PAINT AS /</text><text x="727.3" y="1312" class="t">APPROVED</text><text x="727.3" y="1322.3" class="t">SAMPLE</text>
<text x="609.7" y="1330.3" class="t">FLOORING AS /</text><text x="609.7" y="1340.7" class="t">DETAIL</text><text x="609.7" y="1350.7" class="t">F.F.L. +600</text>
<text x="615" y="1404" class="t">FILLING</text>
<text x="553.2" y="1173.5" class="d m">600</text><text x="710" y="1173.5" class="d m">600</text>
<text transform="translate(749,1176.7) rotate(-90)" class="d m">150</text>
<text transform="translate(503.4,1285) rotate(-90)" class="d m">3000</text>
<text transform="translate(540,1285) rotate(-90)" class="d m">2700</text>
<text transform="translate(530.6,1205) rotate(-90)" class="d m">150</text>
<text transform="translate(530.6,1365) rotate(-90)" class="d m">150</text>
<text transform="translate(503.4,1391.7) rotate(-90)" class="d m">450</text>
<text transform="translate(720,1243.3) rotate(-90)" class="d m">1650</text>
<text transform="translate(720,1333.3) rotate(-90)" class="d m">1350</text>
<text transform="translate(585.5,1341) rotate(-90)" class="d m">600</text>
<text x="548.5" y="1469" class="u" textLength="71.6" lengthAdjust="spacingAndGlyphs">SECTION - AA</text>
<rect x="548.5" y="1470.5" width="71.6" height="1" fill="#000"/>

<!-- ============ SECTION BB ============ -->
<rect x="905" y="1393" width="209.4" height="77" fill="url(#st)"/>
<rect x="1114.4" y="1330.7" width="34" height="139.3" fill="url(#st)"/>
<line x1="1114.4" y1="1330.7" x2="1148.4" y2="1330.7" stroke="#1f8a2a" stroke-width="2.2"/>
<rect x="905" y="1380" width="42" height="13" fill="url(#st2)" stroke="#000" stroke-width="0.5"/>
<rect x="960" y="1373" width="140.3" height="14" fill="url(#st2)"/>
<rect x="947" y="1293.3" width="13" height="100" fill="url(#wh)" stroke="#000" stroke-width="0.7"/>
<path d="M947,1393H960V1408H965V1422H970V1436H975V1445H929V1436H934V1422H939V1408H947Z" fill="url(#wh)" stroke="#000" stroke-width="0.7"/>
<rect x="928.7" y="1445" width="47.1" height="10.7" fill="url(#st)" stroke="#000" stroke-width="0.8"/>
<rect x="1100.3" y="1293.3" width="14.1" height="99.7" fill="url(#wh)" stroke="#000" stroke-width="0.7"/>
<path d="M1100.3,1393H1114.4V1408H1119V1422H1124V1436H1129V1445H1086V1436H1090V1422H1095V1408H1100.3Z" fill="url(#wh)" stroke="#000" stroke-width="0.7"/>
<rect x="1083" y="1445" width="48.6" height="10.7" fill="url(#st)" stroke="#000" stroke-width="0.8"/>
<line x1="947" y1="1371" x2="1114.4" y2="1371" stroke="#000" stroke-width="2.2"/>
<g stroke="#000" stroke-width="0.7" fill="none">
<rect x="932.4" y="1190.7" width="19.8" height="102.6" fill="#fff"/>
<rect x="1095" y="1190.7" width="19.4" height="102.6" fill="#fff"/>
<rect x="961" y="1200" width="134" height="93.3"/>
<path d="M1003,1200V1370 M1058.4,1200V1370 M932.4,1293.3V1370 M1069,1320V1370"/>
<path d="M1003,1277 L1057,1370 M1058,1200 L1004.5,1285" stroke-dasharray="3,2"/>
<path d="M966,1262 l6,-8 M968,1259 l2,2 M1074,1262 l6,-8 M1076,1259 l2,2"/>
<rect x="1066" y="1295" width="2.5" height="12"/>
</g>
<path d="M947,1191V1293 M1111.8,1191V1293" stroke="#1aa0d8" stroke-width="1.2"/>
<rect x="947" y="1315" width="41.9" height="7.3" fill="url(#st2)" stroke="#000" stroke-width="0.7"/>
<rect x="1070" y="1313" width="44.4" height="9" fill="url(#st2)" stroke="#000" stroke-width="0.7"/>
<ellipse cx="1093" cy="1317" rx="24" ry="8" fill="none" stroke="#000" stroke-width="0.7"/>
<path d="M922.4,1180.7H965.3V1183.3H1095V1180.7H1140.5V1190.7H1114.4V1200H949.6V1190.7H922.4Z" fill="url(#st)" stroke="#000" stroke-width="0.8"/>
<rect x="965.3" y="1183.3" width="129.7" height="3.7" fill="#444"/>
<g stroke="#000" stroke-width="0.7" fill="none">
<path d="M838,1190.7H922 M830,1380H1140 M830,1408.3H1148" stroke-dasharray="10,3,2,3"/>
<path d="M897.3,1190.7V1380 M922.4,1175H965 M1095,1175H1140"/>
<path d="M1033,1141.7H1009.8V1183.3 M1033,1161.7H1022.8V1183.3 M965,1221.7H1128 M1075,1245.7H1128 M994,1278.3H1119.6 M994,1278.3L978,1315 M1117,1318H1124 M984,1331H980V1368"/>
<rect x="1033.3" y="1156.7" width="60.2" height="10"/>
</g>
<use xlink:href="#lv" x="805.8" y="1190.7"/><use xlink:href="#lv" x="805.8" y="1380"/><use xlink:href="#lv" x="805.8" y="1408.3"/>
<text x="812.6" y="1188" class="t">TERRACE</text><text x="812.6" y="1198" class="t">T.O.S +3450 MM</text>
<text x="812.6" y="1377.5" class="t">DRIVEWAY</text><text x="812.6" y="1388" class="t">F.F.L. +450 MM</text>
<text x="812.6" y="1406.5" class="t">OUTER ROAD/NGL</text><text x="812.6" y="1416.5" class="t">F.F.L. ±00 MM</text>
<text x="1033.3" y="1139.7" class="t">TERRACING AS /</text><text x="1033.3" y="1150.3" class="t">DETAIL</text>
<text x="1063.4" y="1164.5" class="t m">T.O.S.  +3460</text>
<text x="1131.6" y="1219.7" class="t">COLUMN IN</text><text x="1131.6" y="1230.7" class="t">ELEVATION</text>
<text x="1131.6" y="1243" class="t">CURTAIN</text><text x="1131.6" y="1254" class="t">GLAZING</text><text x="1131.6" y="1264.7" class="t">AS / DETAL</text>
<text x="1131.6" y="1275.7" class="t">RCC</text><text x="1131.6" y="1286.3" class="t">COUNTER</text><text x="1131.6" y="1297.3" class="t">AS / STR.</text>
<text x="1124.8" y="1321.3" class="t">DETAIL-A</text>
<text x="984.7" y="1330.3" class="t">FLOORING AS /</text><text x="984.7" y="1340.7" class="t">DETAIL</text><text x="984.7" y="1350.7" class="t">F.F.L. +600</text>
<text x="1012" y="1404" class="t">FILLING</text>
<text x="944.4" y="1173.5" class="d m">600</text><text x="1116" y="1173.5" class="d m">600</text>
<text transform="translate(895.7,1285) rotate(-90)" class="d m">3000</text>
<text transform="translate(931.7,1243.3) rotate(-90)" class="d m">1650</text>
<text transform="translate(931.7,1331.7) rotate(-90)" class="d m">1200</text>
<text transform="translate(924.4,1365) rotate(-90)" class="d m">150</text>
<text transform="translate(895.7,1391.7) rotate(-90)" class="d m">450</text>
<text transform="translate(1079.8,1343.3) rotate(-90)" class="d m">650</text>
<text x="938.1" y="1469" class="u" textLength="70.6" lengthAdjust="spacingAndGlyphs">SECTION - BB</text>
<rect x="938.1" y="1470.5" width="70.6" height="1" fill="#000"/>

<!-- ============ DETAIL AT A ============ -->
<rect x="1295.7" y="1264.3" width="36.3" height="195.7" fill="url(#wh)" stroke="#000" stroke-width="0.8"/>
<rect x="1332" y="1357.7" width="79" height="102.3" fill="url(#hb)"/>
<rect x="1332" y="1351.7" width="79" height="6" fill="#2a8a2a"/>
<rect x="1198" y="1452.7" width="97.7" height="5" fill="url(#wh)"/>
<g stroke="#000" stroke-width="0.7" fill="none">
<path d="M1198,1258.3H1285 M1198,1263.3H1296 M1285,1221V1458 M1271.3,1263V1458 M1262,1263V1458 M1328,1221V1264 M1198,1452.7H1296 M1332,1357.7V1460"/>
<path d="M1222.5,1307.7H1296 M1230.7,1335H1296 M1331,1233.3H1341 M1315.7,1277.7H1341 M1322.8,1325L1338,1309"/>
</g>
<path d="M1320,1221V1263 M1331,1221V1263" stroke="#1aa0d8" stroke-width="1"/>
<rect x="1225.2" y="1310.7" width="70.5" height="5" fill="url(#st2)" stroke="#000" stroke-width="0.5"/>
<rect x="1225.2" y="1317.3" width="106.8" height="17.7" fill="#e2e2e2" stroke="#000" stroke-width="0.8"/>
<line x1="1230" y1="1320" x2="1315" y2="1331" stroke="#000" stroke-width="0.5"/>
<text x="1341.8" y="1232.3" class="t">CURTAIN</text><text x="1341.8" y="1243" class="t">GLAZING</text><text x="1341.8" y="1253.7" class="t">AS / DETAIL</text>
<text x="1341.8" y="1275.7" class="t">230 MM THICK</text><text x="1341.8" y="1286.3" class="t">BRICK WALL</text>
<text x="1341.8" y="1309" class="t">RCC COUNTER</text><text x="1341.8" y="1319.7" class="t">AS / STR.</text>
<text x="1341.8" y="1335.7" class="t">10x10 MM</text><text x="1341.8" y="1346.3" class="t">GROOVE</text>
<text x="1218.7" y="1298" class="d m">20</text><text x="1237.2" y="1298" class="d m">20</text><text x="1252.3" y="1305.5" class="d m">410</text><text x="1314.7" y="1305.5" class="d m">230</text>
<text transform="translate(1260.8,1291.7) rotate(-90)" class="d m">550</text>
<text transform="translate(1260.8,1386.7) rotate(-90)" class="d m">850</text>
<text transform="translate(1205.5,1305) rotate(-90)" class="d m">50</text>
<text transform="translate(1207,1325) rotate(-90)" class="d m">10 110</text>
<text x="1223.6" y="1450" class="t">F.F.L.</text>
<text x="1210.6" y="1468" class="u" textLength="59.6" lengthAdjust="spacingAndGlyphs">DETAIL AT A</text>
<rect x="1210.6" y="1469.5" width="59.6" height="1" fill="#000"/>

<!-- ============ METER CABINET ELEVATION ============ -->
<rect x="1500.6" y="1124" width="154.4" height="162" fill="url(#wh)" stroke="#000" stroke-width="0.8"/>
<rect x="1516.8" y="1131.7" width="123.1" height="154.3" fill="#fff" stroke="#000" stroke-width="0.8"/>
<rect x="1519" y="1134" width="118.8" height="152" fill="none" stroke="#000" stroke-width="0.6"/>
<rect x="1523.3" y="1138.3" width="51.5" height="143.4" fill="url(#lou)" stroke="#000" stroke-width="0.6"/>
<rect x="1583" y="1138.3" width="51.4" height="143.4" fill="url(#lou)" stroke="#000" stroke-width="0.6"/>
<line x1="1578.6" y1="1134" x2="1578.6" y2="1286" stroke="#000" stroke-width="0.7"/>
<rect x="1544" y="1182" width="73" height="22" fill="#fff"/>
<text x="1580" y="1192" class="t m">METER ROOM</text><text x="1580" y="1203" class="t m">DOOR AS DETAIL</text>
<circle cx="1620" cy="1182.7" r="4" fill="#fff" stroke="#000" stroke-width="0.6"/>
<path d="M1576,1213V1227 M1581,1213V1227" stroke="#000" stroke-width="0.8"/>
<line x1="1493.5" y1="1286" x2="1664.3" y2="1286" stroke="#000" stroke-width="2"/>
<g stroke="#000" stroke-width="0.7" fill="none">
<path d="M1501.6,1295H1656.1" stroke-dasharray="8,3,2,3"/>
<path d="M1497,1124V1286 M1538,1103H1531.5L1521.7,1123.3 M1420,1280H1500"/>
</g>
<use xlink:href="#lv" x="1428.5" y="1275"/>
<text x="1538.5" y="1105.7" class="t">BLACK GRANITE AS/ SPECS</text><text x="1538.5" y="1117" class="t">&amp; APPROVED SAMPLE</text>
<text x="1436.6" y="1274.7" class="t">LVL. +600 MM</text>
<text x="1431.2" y="1292" class="t">DRIVEWAY</text><text x="1431.2" y="1303" class="t">LVL. +450 MM</text>
<text x="1509.8" y="1302" class="d m">230</text><text x="1580.2" y="1302" class="d m">1970</text><text x="1649.6" y="1302" class="d m">230</text>
<text transform="translate(1495.5,1208.3) rotate(-90)" class="d m">2450</text>
<text transform="translate(1487.4,1119.3) rotate(-90)" class="d m">100</text>
<text transform="translate(1486.3,1281.7) rotate(-90)" class="d m">150</text>
<text x="1503.3" y="1328.7" class="u" textLength="148.5" lengthAdjust="spacingAndGlyphs">METER CABINET ELEVATION</text>
<rect x="1503.3" y="1330.2" width="148.5" height="1" fill="#000"/>

<!-- ============ METER CABINET PLAN ============ -->
<g stroke="#000" stroke-width="0.8" fill="none">
<path d="M1501.6,1391H1664 M1501.6,1444H1664 M1501.6,1391V1444 M1501.6,1384.7H1656"/>
</g>
<rect x="1501.6" y="1391" width="154.4" height="14.7" fill="url(#wh)" stroke="#000" stroke-width="0.8"/>
<rect x="1641.5" y="1391" width="14.5" height="32.3" fill="url(#wh)" stroke="#000" stroke-width="0.8"/>
<rect x="1501.6" y="1418.3" width="13.6" height="25.7" fill="#8c8c8c" stroke="#000" stroke-width="0.8"/>
<rect x="1641.5" y="1425" width="14.5" height="19" fill="#8c8c8c" stroke="#000" stroke-width="0.8"/>
<rect x="1516.8" y="1406.7" width="123.1" height="37.3" fill="#fff" stroke="#000" stroke-width="0.8"/>
<text x="1575" y="1420.5" class="t m">METER CABINET</text><text x="1575" y="1431" class="t m">FFL +600 MM</text>
<line x1="1528.8" y1="1370" x2="1528.8" y2="1458" stroke="#f00" stroke-width="1.4"/>
<polygon points="1523,1442 1535,1442 1529,1458" fill="#f00"/>
<use xlink:href="#sec" x="1531" y="1357"/><text x="1531" y="1365" class="w m">C</text>
<text x="1509.8" y="1381.5" class="d m">230</text><text x="1579.2" y="1381.5" class="d m">1970</text><text x="1648" y="1381.5" class="d m">230</text>
<text transform="translate(1489,1398.3) rotate(-90)" class="d m">230</text>
<text transform="translate(1489,1425) rotate(-90)" class="d m">600</text>
<text x="1521.7" y="1467" class="u" textLength="117" lengthAdjust="spacingAndGlyphs">METER CABINET PLAN</text>
<rect x="1521.7" y="1468.5" width="117" height="1" fill="#000"/>

<!-- ============ SECTION C ============ -->
<rect x="1803.5" y="1240" width="66.7" height="58.3" fill="url(#hb2)"/>
<rect x="1803.5" y="1298.3" width="158.9" height="65" fill="url(#hb)"/>
<rect x="1921.7" y="1294.3" width="40.7" height="7.4" fill="url(#st2)"/>
<path d="M1870,1306.7H1885V1323H1910V1306.7H1921.7V1320H1928V1335H1932.6V1345.7H1862V1335H1866V1320H1870Z" fill="url(#wh)" stroke="#000" stroke-width="0.7"/>
<rect x="1855.6" y="1345.7" width="84" height="8.6" fill="#8c8c8c" stroke="#000" stroke-width="0.8"/>
<rect x="1870.2" y="1143.3" width="14.7" height="143.4" fill="url(#wh)" stroke="#000" stroke-width="0.8"/>
<rect x="1870.2" y="1123.3" width="51.5" height="8.4" fill="#8c8c8c" stroke="#000" stroke-width="0.8"/>
<rect x="1870.2" y="1131.7" width="14.7" height="11.6" fill="#8c8c8c" stroke="#000" stroke-width="0.8"/>
<rect x="1870" y="1289" width="15" height="17.7" fill="#8c8c8c" stroke="#000" stroke-width="0.6"/>
<rect x="1885" y="1289" width="36.7" height="4.3" fill="#8c8c8c" stroke="#000" stroke-width="0.6"/>
<rect x="1910" y="1293.3" width="11.7" height="13.4" fill="#8c8c8c" stroke="#000" stroke-width="0.6"/>
<g stroke="#000" stroke-width="0.7" fill="none">
<path d="M1686,1124.3H2011 M1686,1294.3H2011 M1686,1323.3H2011" stroke-dasharray="10,3,2,3"/>
<path d="M1803.5,1240H1870" stroke-width="1.5"/>
<path d="M1803.5,1230V1373 M1962.4,1230V1373 M1916.3,1131.7V1289 M1921.7,1131.7V1289 M1787.8,1124.3V1323.3 M1885,1170H1916 M1869,1155H1862 M1893.5,1226.7H1945 M1893.5,1226.7V1278 M1905.4,1246.7H1945 M1905.4,1246.7V1278"/>
<circle cx="1908.2" cy="1211.7" r="4"/>
<path d="M1885,1120H1915"/>
</g>
<use xlink:href="#lv" x="1694" y="1124.3"/><use xlink:href="#lv" x="1694" y="1294.3"/><use xlink:href="#lv" x="1694" y="1323.3"/>
<text x="1702.2" y="1121.3" class="t">TERRACE</text><text x="1702.2" y="1132.3" class="t">T.O.S +3150 MM</text>
<text x="1885.4" y="1119" class="t">SLOPE</text>
<text x="1736.3" y="1152.3" class="t">BLACK GRANITE AS/ SPECS</text><text x="1736.3" y="1163" class="t">&amp; APPROVED SAMPLE</text>
<text x="1900" y="1168.5" class="d m">485</text>
<text x="1947.7" y="1224" class="t">FLOORING AS /</text><text x="1947.7" y="1234.7" class="t">DETAIL</text>
<text x="1947.7" y="1248.7" class="t">F.F.L. +600</text>
<text x="1702.2" y="1292" class="t">DRIVEWAY</text><text x="1702.2" y="1303" class="t">F.F.L. +450 MM</text>
<text x="1702.2" y="1321.3" class="t">OUTER ROAD/NGL</text><text x="1702.2" y="1332" class="t">F.F.L. ±00 MM</text>
<text x="1806" y="1258" class="d">STREET EARTH</text><text x="1812" y="1268" class="d">FILLING</text>
<text x="1821.4" y="1323" class="t">FILLING</text><text x="1927" y="1323" class="t">FILLING</text>
<text transform="translate(1929.1,1208.3) rotate(-90)" class="d m">2450</text>
<text transform="translate(1785.5,1210) rotate(-90)" class="d m">2700</text>
<text transform="translate(1785.5,1308.3) rotate(-90)" class="d m">450</text>
<text transform="translate(1941.6,1278.3) rotate(-90)" class="d m">150</text>
<text transform="translate(1944.3,1116.7) rotate(-90)" class="d m">100</text>
<text x="1863.7" y="1378.7" class="u" textLength="64.5" lengthAdjust="spacingAndGlyphs">SECTION - C</text>
<rect x="1863.7" y="1380.2" width="64.5" height="1" fill="#000"/>
</svg>
</body></html>
